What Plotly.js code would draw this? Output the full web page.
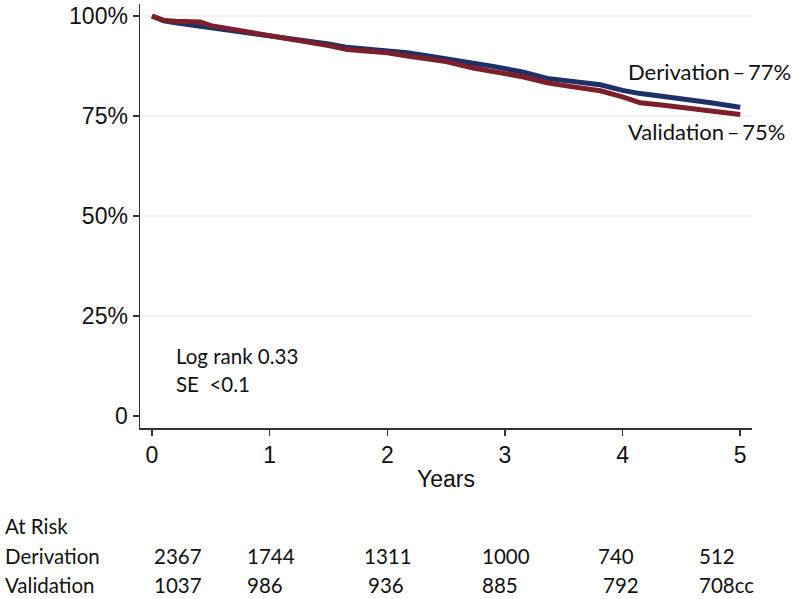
<!DOCTYPE html>
<html>
<head>
<meta charset="utf-8">
<script src="https://cdn.plot.ly/plotly-3.0.1.min.js"></script>
<style>html,body{margin:0;padding:0;background:#fff;}#chart{width:800px;height:599px;}</style>
</head>
<body>
<div id="chart"></div>
<script>
// ---- Data ----
const derivTime = [0, 0.05, 0.1, 0.2, 0.3, 0.4, 0.55, 0.7, 0.85, 1.0, 1.15, 1.3, 1.5, 1.65, 1.8, 2.0, 2.17, 2.35, 2.5, 2.73, 2.9, 3.0, 3.15, 3.36, 3.55, 3.81, 4.0, 4.15, 4.35, 4.55, 4.75, 4.97, 5.0];
const derivSurv = [100, 99.3, 98.8, 98.3, 97.9, 97.6, 96.8, 96.3, 95.8, 95.2, 94.6, 94.0, 93.0, 92.2, 91.8, 91.5, 90.8, 90.0, 89.4, 88.2, 87.4, 86.8, 86.0, 84.4, 83.8, 82.8, 81.4, 80.6, 79.9, 79.2, 78.3, 77.3, 77.2];
const validTime = [0, 0.05, 0.1, 0.2, 0.3, 0.41, 0.5, 0.6, 0.8, 1.0, 1.15, 1.32, 1.5, 1.66, 1.8, 2.0, 2.17, 2.35, 2.5, 2.73, 2.9, 3.0, 3.15, 3.36, 3.55, 3.81, 4.0, 4.15, 4.35, 4.55, 4.75, 4.97, 5.0];
const validSurv = [100, 99.3, 98.9, 98.7, 98.6, 98.5, 97.6, 97.1, 96.2, 95.3, 94.6, 93.6, 92.6, 91.6, 91.2, 90.8, 90.0, 89.3, 88.6, 87.0, 86.3, 85.6, 84.8, 83.3, 82.4, 81.3, 79.8, 78.3, 77.7, 77.0, 76.2, 75.5, 75.4];

const yTickVals = [0, 25, 50, 75, 100];
const yTickText = ['0', '25%', '50%', '75%', '100%'];
const xTickVals = [0, 1, 2, 3, 4, 5];

const seriesNames = ['Derivation', 'Validation'];
const endLabels = ['Derivation\u2009\u2013\u200977%', 'Validation\u2009\u2013\u200975%'];
const statsText = ['Log rank 0.33', 'SE&nbsp;&nbsp;&lt;0.1'];

const atRiskTitle = 'At Risk';
const atRiskDeriv = ['2367', '1744', '1311', '1000', '740', '512'];
const atRiskValid = ['1037', '986', '936', '885', '792', '708cc'];

// ---- Layout helpers (pixel positions) ----
const W = 800, H = 599;
const M = {l: 140, r: 48, t: 4, b: 171};
const PW = W - M.l - M.r, PH = H - M.t - M.b;
const px2x = p => (p - M.l) / PW;
const py2y = p => 1 - (p - M.t) / PH;
const derivCols = [152, 245, 362, 480, 596, 697];
const validCols = [152, 245, 366, 480, 601, 697];

const textFont = {family: 'Lato, "Noto Sans", sans-serif', size: 20.5, color: '#111'};
const axisFont = {family: '"Liberation Sans", Arial, sans-serif', size: 23, color: '#111'};

const traces = [
  {x: derivTime, y: derivSurv, name: seriesNames[0], mode: 'lines', line: {color: '#1d3068', width: 5, shape: 'linear'}},
  {x: validTime, y: validSurv, name: seriesNames[1], mode: 'lines', line: {color: '#7d1f2b', width: 5, shape: 'linear'}}
];

const annotations = [];
function addText(txt, px, py, anchor, font) {
  annotations.push({text: txt, xref: 'paper', yref: 'paper', x: px2x(px), y: py2y(py),
    xanchor: anchor || 'left', yanchor: 'middle', showarrow: false, font: font || textFont});
}
addText(endLabels[0], 626, 72, 'left', Object.assign({}, textFont, {size: 22}));
addText(endLabels[1], 626, 131, 'left', Object.assign({}, textFont, {size: 22}));
addText(statsText[0], 174, 356);
addText(statsText[1], 174, 384);
addText(atRiskTitle, 3, 526);
addText(seriesNames[0], 3, 556);
addText(seriesNames[1], 3, 585);
atRiskDeriv.forEach((v, i) => addText(v, derivCols[i], 556));
atRiskValid.forEach((v, i) => addText(v, validCols[i], 585));

const shapes = yTickVals.filter(v => v > 0).map(v => ({
  type: 'line', xref: 'paper', yref: 'y', x0: 0, x1: 1, y0: v, y1: v,
  line: {color: '#e3eaef', width: 1.2}, layer: 'below'
}));

const layout = {
  width: W, height: H,
  margin: M,
  paper_bgcolor: '#fff', plot_bgcolor: '#fff',
  showlegend: false,
  xaxis: {
    range: [-0.102, 5.1], tickvals: xTickVals, ticktext: xTickVals.map(String),
    showgrid: false, zeroline: false, showline: true, linecolor: '#333', linewidth: 1.5,
    ticks: 'outside', ticklen: 6, tickcolor: '#333', tickwidth: 1.5,
    tickfont: axisFont,
    title: {text: 'Years', font: axisFont, standoff: 4}
  },
  yaxis: {
    range: [-3, 103], tickvals: yTickVals, ticktext: yTickText,
    showgrid: false, zeroline: false, showline: true, linecolor: '#333', linewidth: 1.5,
    ticks: 'outside', ticklen: 6, tickcolor: '#333', tickwidth: 1.5,
    tickfont: axisFont
  },
  shapes: shapes,
  annotations: annotations
};

Plotly.newPlot('chart', traces, layout, {displayModeBar: false, staticPlot: true});
</script>
</body>
</html>
